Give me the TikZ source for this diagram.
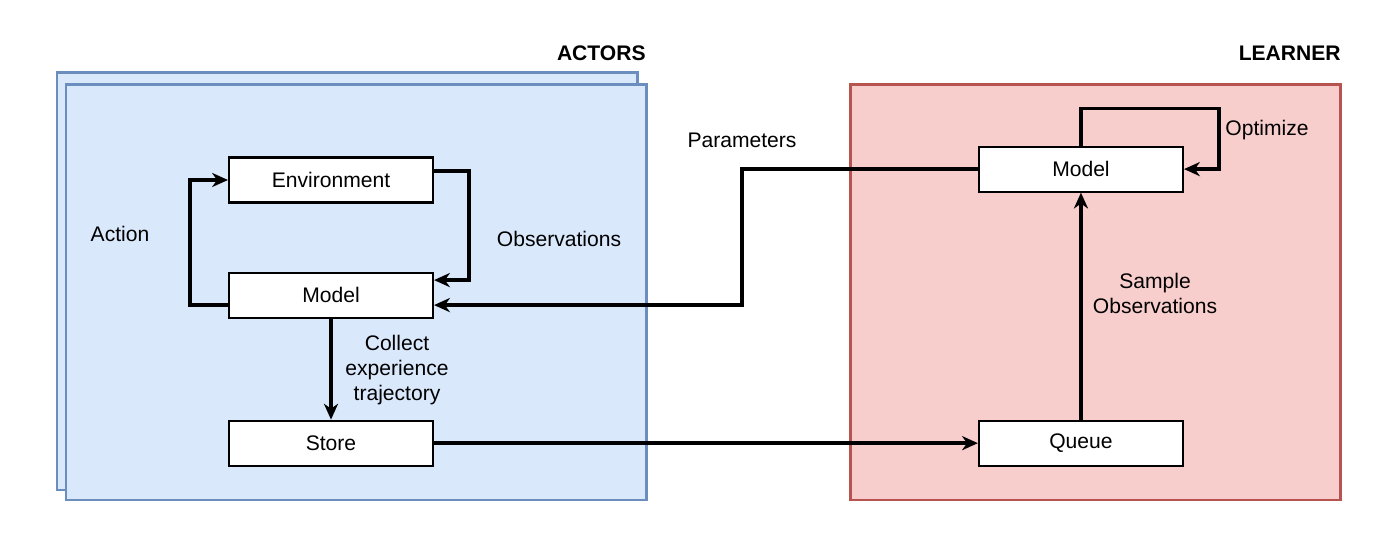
\documentclass[tikz,border=0pt]{standalone}
\usepackage{fontspec}
\setmainfont{Liberation Sans}
\usepackage{tikz}
\usetikzlibrary{positioning,arrows.meta,calc}

\definecolor{actorfill}{HTML}{DAE8FC}
\definecolor{actordraw}{HTML}{6C8EBF}
\definecolor{learnfill}{HTML}{F8CECC}
\definecolor{learndraw}{HTML}{B85450}

\begin{document}
\begin{tikzpicture}[
        x=0.02cm, y=-0.02cm,
        every node/.style={font=\fontsize{12}{14.2}\selectfont},
        box/.style={rectangle, draw=black, fill=white, line width=1.2pt, minimum width=4.08cm, minimum height=0.9cm, inner sep=0pt},
        actors/.style={draw=actordraw, fill=actorfill, line width=1.7pt},
        learner/.style={draw=learndraw, fill=learnfill, line width=1.7pt},
        conn/.style={line width=1.9pt, -{Stealth[length=9pt,width=8pt,inset=2.8pt]}},
        lbl/.style={align=center, inner sep=0pt},
        title/.style={font=\fontsize{12}{14.2}\selectfont\bfseries, inner sep=0pt}
        ]
        \useasboundingbox (0,0) rectangle (1400,546);

        %Containers
        \draw[actors] (57,73) rectangle (637,490);
        \draw[actors] (66,85) rectangle (646,500);
        \draw[learner] (850,85) rectangle (1340,500);
        \node[title, anchor=east] (actorsT)  at (646,53)   {ACTORS};
        \node[title, anchor=east] (learnerT) at (1341,53)  {LEARNER};

        %Boxes
        \node[box]      (env)                                   at (331,180)    {Environment};
        \node[box]      (amodel)        [below=1.36cm of env]                   {Model};
        \node[box]      (store)         [below=2.02cm of amodel]                {Store};
        \node[box]      (queue)         [right=10.88cm of store]                {Queue};
        \node[box]      (lmodel)        [above=4.54cm of queue]                 {Model};

        %Labels
        \node[lbl] (action)     at (120,234)  {Action};
        \node[lbl] (obs)        at (559,239)  {Observations};
        \node[lbl] (params)     at (742,140)  {Parameters};
        \node[lbl] (collect)    at (397,370)  {Collect\\experience\\trajectory};
        \node[lbl] (sample)     at (1155,293) {Sample\\Observations};
        \node[lbl] (optimize)   at (1267,130) {Optimize};

        %Lines
        \draw[conn] ($(env.east)+(0,-9)$) -- ++(35,0) |- ($(amodel.east)+(0,-15)$);
        \draw[conn] ($(amodel.west)+(0,10)$) -- ++(-38,0) |- (env.west);
        \draw[conn] (amodel) -- (store);
        \draw[conn] (store) -- (queue);
        \draw[conn] (queue) -- (lmodel);
        \draw[conn] (lmodel.north) |- ++(138,-37) |- (lmodel.east);
        \draw[conn] (lmodel.west) -- ++(-236,0) |- ($(amodel.east)+(0,10)$);

    \end{tikzpicture}
\end{document}
